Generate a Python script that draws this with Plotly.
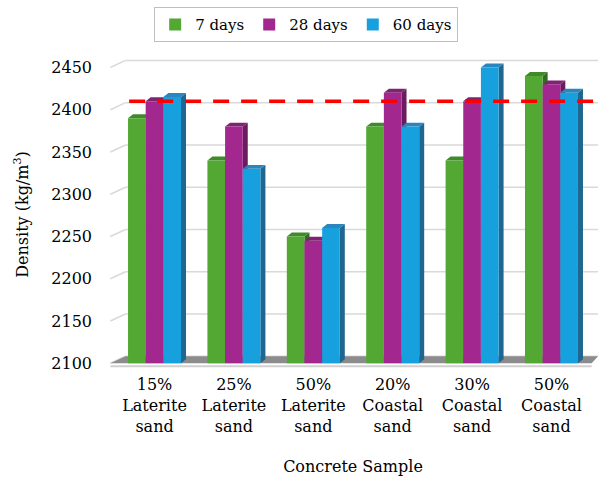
import plotly.graph_objects as go

# Concrete density by mix and curing age
categories = ["15%<br>Laterite<br>sand", "25%<br>Laterite<br>sand", "50%<br>Laterite<br>sand",
              "20%<br>Coastal<br>sand", "30%<br>Coastal<br>sand", "50%<br>Coastal<br>sand"]
series_names = ["7 days", "28 days", "60 days"]
days_7 = [2390, 2340, 2250, 2380, 2340, 2440]
days_28 = [2410, 2380, 2245, 2420, 2410, 2430]
days_60 = [2415, 2330, 2260, 2380, 2450, 2420]
reference_density = 2410
y_ticks = [2100, 2150, 2200, 2250, 2300, 2350, 2400, 2450]

FONT = "DejaVu Serif"
FS = 16
BASE = 2100
Y_RANGE = [2092, 2460]
X_RANGE = [-0.586, 5.586]
BAR_W = 0.6675 / 3
# pseudo-3D depth offsets (x in category units, y in value units)
DX, DY = 0.063, 4.7          # bar top / side faces
WDX, WDY = 0.19, 8.3         # wall depth

front = ["#52A832", "#A2288F", "#17A0DE"]
top_face = ["#3F8A2A", "#7E2472", "#2B86BE"]
side_face = ["#2F6E1E", "#6B1C5F", "#1F6690"]

values = [days_7, days_28, days_60]
idx = list(range(len(categories)))

fig = go.Figure()
shapes = []

# back and left wall gridlines
wall_left = X_RANGE[0] + 0.03
for t in y_ticks:
    shapes.append(dict(type="line", xref="x", yref="y", layer="below",
                       x0=wall_left, y0=t, x1=wall_left + WDX, y1=t + WDY,
                       line=dict(color="#D9D9D9", width=1.5)))
    shapes.append(dict(type="line", xref="x", yref="y", layer="below",
                       x0=wall_left + WDX, y0=t + WDY, x1=X_RANGE[1], y1=t + WDY,
                       line=dict(color="#D9D9D9", width=1.5)))

# floor slab
shapes.append(dict(type="path", xref="x", yref="y", layer="below",
                   path=f"M {wall_left},{BASE} L {X_RANGE[1]-0.08},{BASE} "
                        f"L {X_RANGE[1]},{BASE+WDY} L {wall_left+WDX},{BASE+WDY} Z",
                   fillcolor="#8C8C8C", line=dict(width=0)))
shapes.append(dict(type="line", xref="x", yref="y", layer="below",
                   x0=wall_left, y0=BASE - 3.5, x1=X_RANGE[1] - 0.08, y1=BASE - 3.5,
                   line=dict(color="#D0D0D0", width=2)))

for k, (name, vals) in enumerate(zip(series_names, values)):
    off = (k - 1.5) * BAR_W
    fig.add_trace(go.Bar(
        x=idx, y=[v - BASE for v in vals], base=BASE, width=BAR_W, offset=off,
        name=name, marker=dict(color=front[k], line=dict(width=0)),
        customdata=vals, hovertemplate="%{customdata} kg/m³<extra>" + name + "</extra>",
    ))
    for i, v in zip(idx, vals):
        x0 = i + off
        x1 = x0 + BAR_W
        shapes.append(dict(type="path", xref="x", yref="y", layer="below",
                           path=f"M {x1},{BASE} L {x1},{v} L {x1+DX},{v+DY} L {x1+DX},{BASE+DY} Z",
                           fillcolor=side_face[k], line=dict(width=0)))
        shapes.append(dict(type="path", xref="x", yref="y", layer="below",
                           path=f"M {x0},{v} L {x1},{v} L {x1+DX},{v+DY} L {x0+DX},{v+DY} Z",
                           fillcolor=top_face[k], line=dict(width=0)))

# reference density line
shapes.append(dict(type="line", xref="x", yref="y", layer="above",
                   x0=-0.32, y0=reference_density, x1=X_RANGE[1], y1=reference_density,
                   line=dict(color="#FF0000", width=3.5, dash="16px,12px")))

fig.update_layout(
    width=598, height=481,
    margin=dict(l=108, r=0, t=59, b=111),
    paper_bgcolor="white", plot_bgcolor="white",
    barmode="overlay",
    font=dict(family=FONT, size=FS, color="#000000"),
    shapes=shapes,
    showlegend=True,
    legend=dict(orientation="h", xref="container", yref="container",
                x=0.512, xanchor="center", y=0.985, yanchor="top",
                bordercolor="#BFBFBF", borderwidth=1, bgcolor="white",
                font=dict(family=FONT, size=15), itemclick=False),
    xaxis=dict(range=X_RANGE, tickmode="array", tickvals=idx, ticktext=categories,
               showgrid=False, zeroline=False, showline=False, ticks="",
               ticklabelstandoff=3,
               title=dict(text="Concrete Sample", standoff=26,
                          font=dict(family=FONT, size=FS))),
    yaxis=dict(range=Y_RANGE, tickmode="array", tickvals=y_ticks,
               showgrid=False, zeroline=False, showline=False, ticks="",
               ticklabelstandoff=15,
               title=dict(text="Density (kg/m<sup>3</sup>)", standoff=18,
                          font=dict(family=FONT, size=FS))),
)

fig.write_html("out.html")
